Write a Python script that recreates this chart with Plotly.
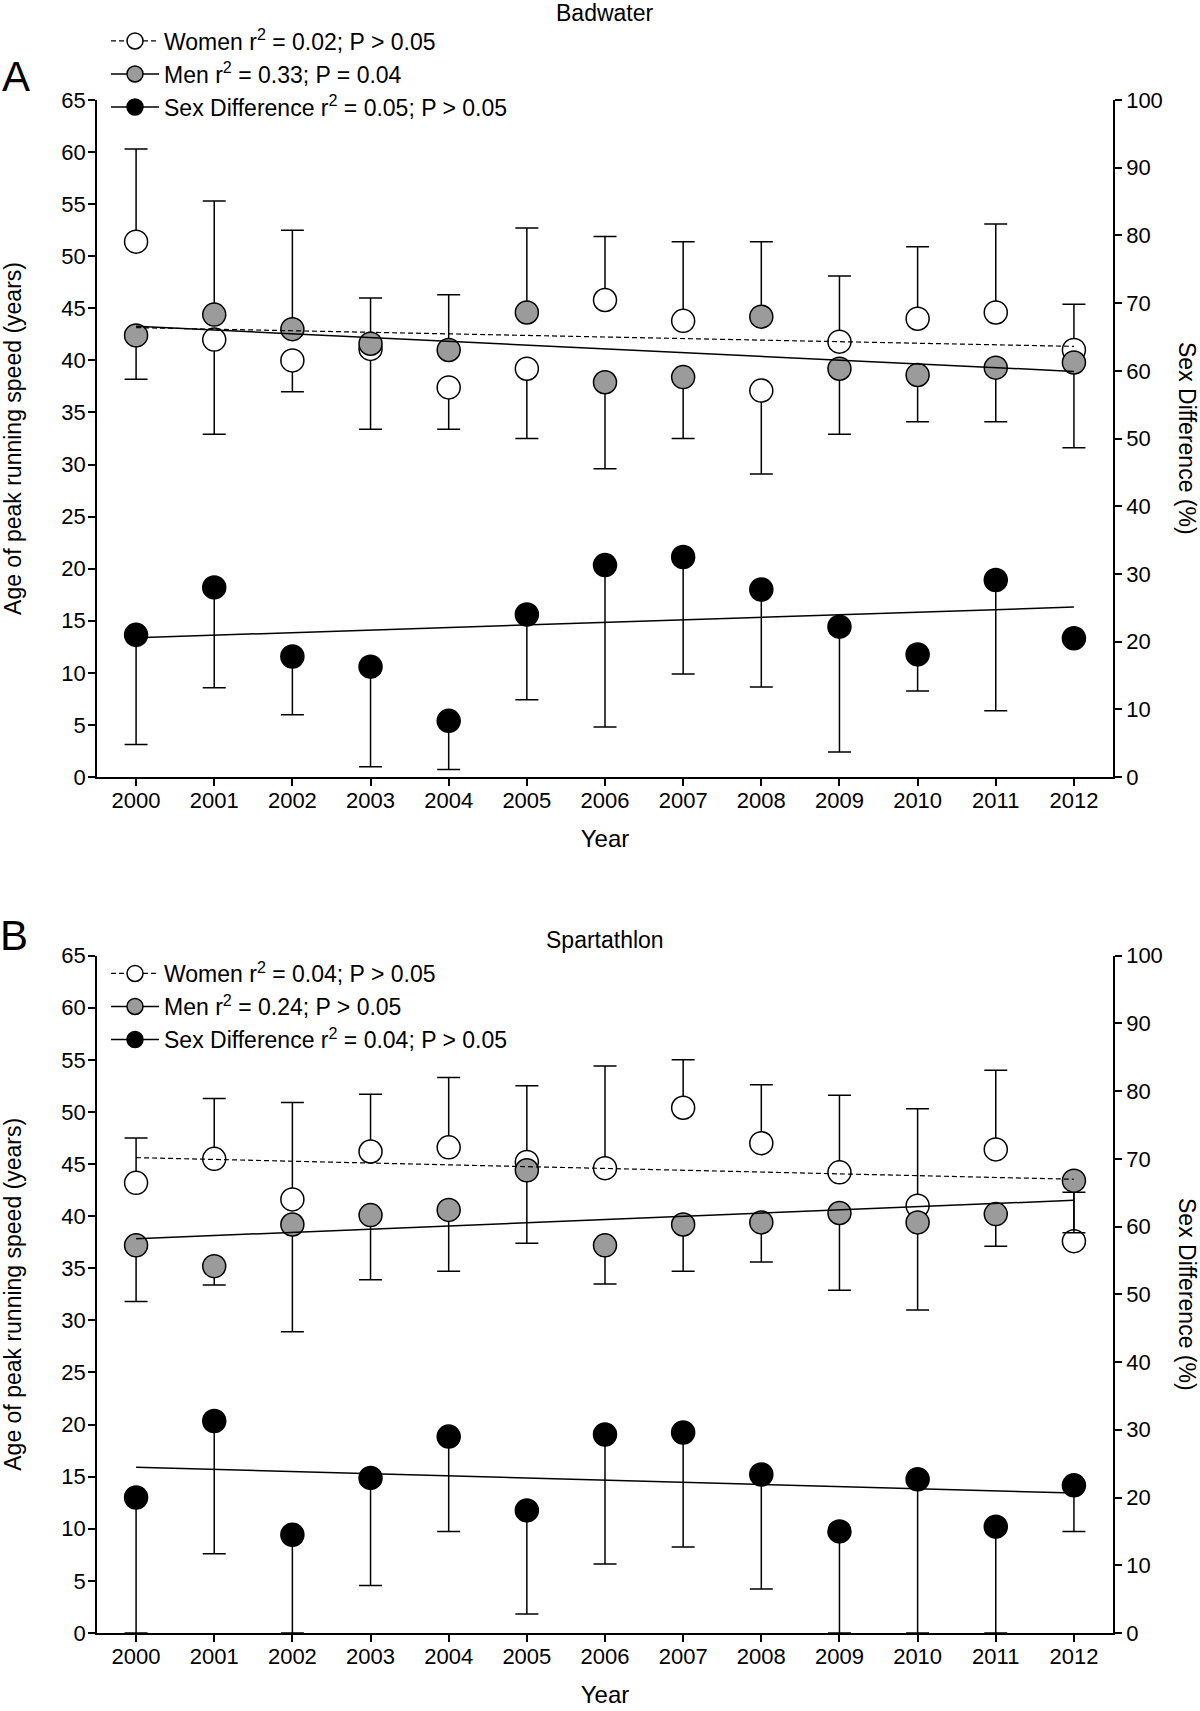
import numpy as np
import plotly.graph_objects as go

years = list(range(2000, 2013))

# ---------------- Panel A : Badwater ----------------
bw_women = [51.4, 42.0, 40.0, 41.1, 37.4, 39.2, 45.8, 43.8, 37.1, 41.8, 44.0, 44.6, 41.0]
bw_women_err_up = [8.9, 0, 0, 0, 0, 0, 6.1, 7.6, 0, 6.3, 6.9, 8.5, 4.4]
bw_women_err_down = [0, 9.1, 3.0, 7.7, 4.0, 6.7, 0, 0, 8.0, 0, 0, 0, 0]
bw_men = [42.4, 44.4, 43.0, 41.6, 41.0, 44.6, 37.9, 38.4, 44.2, 39.2, 38.6, 39.3, 39.8]
bw_men_err_up = [0, 10.9, 9.5, 4.4, 5.3, 8.1, 0, 0, 7.2, 0, 0, 0, 0]
bw_men_err_down = [4.2, 0, 0, 0, 0, 0, 8.3, 5.9, 0, 6.3, 4.5, 5.2, 8.2]
bw_diff = [21.0, 28.0, 17.8, 16.3, 8.3, 24.0, 31.3, 32.5, 27.7, 22.2, 18.1, 29.1, 20.5]
bw_diff_err_down = [16.2, 14.8, 8.6, 14.8, 7.2, 12.6, 23.9, 17.3, 14.4, 18.5, 5.4, 19.3, 0]

# ---------------- Panel B : Spartathlon ----------------
sp_women = [43.2, 45.5, 41.6, 46.2, 46.6, 45.2, 44.6, 50.4, 47.0, 44.2, 41.0, 46.4, 37.6]
sp_women_err_up = [4.3, 5.8, 9.3, 5.5, 6.7, 7.3, 9.8, 4.6, 5.6, 7.4, 9.3, 7.6, 4.7]
sp_women_err_down = [0] * 13
sp_men = [37.2, 35.2, 39.2, 40.1, 40.6, 44.4, 37.2, 39.2, 39.4, 40.3, 39.4, 40.2, 43.4]
sp_men_err_up = [0] * 13
sp_men_err_down = [5.4, 1.8, 10.3, 6.2, 5.9, 7.0, 3.7, 4.5, 3.8, 7.4, 8.4, 3.1, 5.0]
sp_diff = [20.0, 31.3, 14.5, 22.9, 29.0, 18.1, 29.3, 29.6, 23.4, 15.0, 22.7, 15.7, 21.8]
sp_diff_err_down = [20.0, 19.6, 14.5, 15.9, 14.0, 15.3, 19.1, 16.9, 16.9, 15.0, 22.7, 15.7, 6.8]

legend_a = ["Women r<sup>2</sup> = 0.02; P &gt; 0.05",
            "Men r<sup>2</sup> = 0.33; P = 0.04",
            "Sex Difference r<sup>2</sup> = 0.05; P &gt; 0.05"]
legend_b = ["Women r<sup>2</sup> = 0.04; P &gt; 0.05",
            "Men r<sup>2</sup> = 0.24; P &gt; 0.05",
            "Sex Difference r<sup>2</sup> = 0.04; P &gt; 0.05"]

FONT = "Liberation Sans, Arial, Helvetica, sans-serif"
W, H = 1200, 1711
GREY = "#9b9b9b"
MS = 23


def px(x):
    return x / W


def py(y):
    return 1 - y / H


def trend(vals):
    k, b = np.polyfit(years, vals, 1)
    xs = [years[0], years[-1]]
    return xs, [k * x + b for x in xs]


fig = go.Figure()


def add_panel(xa, yl, yr, legend, women, wu, wd, men, mu, md, diff, dd, labels):
    common_err = dict(type="data", symmetric=False, color="black", thickness=1.5, width=11.5)
    fig.add_trace(go.Scatter(
        x=years, y=women, mode="markers", xaxis=xa, yaxis=yl, showlegend=False,
        marker=dict(size=MS, color="white", line=dict(color="black", width=1.5)),
        error_y=dict(array=wu, arrayminus=wd, **common_err)))
    fig.add_trace(go.Scatter(
        x=years, y=men, mode="markers", xaxis=xa, yaxis=yl, showlegend=False,
        marker=dict(size=MS, color=GREY, line=dict(color="black", width=1.5)),
        error_y=dict(array=mu, arrayminus=md, **common_err)))
    fig.add_trace(go.Scatter(
        x=years, y=diff, mode="markers", xaxis=xa, yaxis=yr, showlegend=False,
        marker=dict(size=MS, color="black", line=dict(color="black", width=1.5)),
        error_y=dict(array=[0] * len(diff), arrayminus=dd, **common_err)))
    tx, ty = trend(women)
    fig.add_trace(go.Scatter(x=tx, y=ty, mode="lines", xaxis=xa, yaxis=yl, showlegend=False,
                             line=dict(color="black", width=1.2, dash="5px,3px")))
    tx, ty = trend(men)
    fig.add_trace(go.Scatter(x=tx, y=ty, mode="lines", xaxis=xa, yaxis=yl, showlegend=False,
                             line=dict(color="black", width=1.5)))
    tx, ty = trend(diff)
    fig.add_trace(go.Scatter(x=tx, y=ty, mode="lines", xaxis=xa, yaxis=yr, showlegend=False,
                             line=dict(color="black", width=1.5)))
    # legend entries
    styles = [("white", "5px,3px", 1.2), (GREY, "solid", 1.5), ("black", "solid", 1.5)]
    for i, (lab, (c, d, lw)) in enumerate(zip(labels, styles)):
        fig.add_trace(go.Scatter(
            x=[None], y=[None], mode="lines+markers", name=lab, legend=legend,
            legendgroup=f"{legend}{i}", xaxis=xa, yaxis=yl,
            marker=dict(size=MS, color=c, line=dict(color="black", width=1.5)),
            line=dict(color="black", width=lw, dash=d)))


add_panel("x", "y", "y2", "legend", bw_women, bw_women_err_up, bw_women_err_down,
          bw_men, bw_men_err_up, bw_men_err_down, bw_diff, bw_diff_err_down, legend_a)
add_panel("x2", "y3", "y4", "legend2", sp_women, sp_women_err_up, sp_women_err_down,
          sp_men, sp_men_err_up, sp_men_err_down, sp_diff, sp_diff_err_down, legend_b)

xdom = [px(97), px(1113)]
doma = [py(777), py(100)]
domb = [py(1633), py(955.6)]

axis_common = dict(showline=True, linecolor="black", linewidth=1.5, ticks="outside",
                   ticklen=7, tickwidth=1.5, tickcolor="black", showgrid=False,
                   zeroline=False, tickfont=dict(size=22, color="black", family=FONT))
xcommon = dict(axis_common, range=[1999.5, 2012.5], tickmode="array", tickvals=years,
               ticklabelstandoff=-4,
               title=dict(text="Year", font=dict(size=24, color="black"), standoff=18))
ylcommon = dict(axis_common, range=[0, 65], tickmode="linear", tick0=0, dtick=5,
                ticklabelstandoff=-2,
                title=dict(text="Age of peak running speed (years)",
                           font=dict(size=23, color="black"), standoff=43))
yrcommon = dict(axis_common, range=[0, 100], tickmode="linear", tick0=0, dtick=10,
                side="right")

legend_common = dict(xanchor="left", yanchor="top", bgcolor="rgba(0,0,0,0)",
                     font=dict(size=23), tracegroupgap=0.1, itemwidth=48)

fig.update_layout(
    width=W, height=H, margin=dict(l=0, r=0, t=0, b=0, autoexpand=False),
    paper_bgcolor="white", plot_bgcolor="white",
    font=dict(family=FONT, color="black", size=22),
    xaxis=dict(xcommon, domain=xdom, anchor="y"),
    yaxis=dict(ylcommon, domain=doma, anchor="x"),
    yaxis2=dict(yrcommon, overlaying="y", anchor="x"),
    xaxis2=dict(xcommon, domain=xdom, anchor="y3"),
    yaxis3=dict(ylcommon, domain=domb, anchor="x2"),
    yaxis4=dict(yrcommon, overlaying="y3", anchor="x2"),
    legend=dict(legend_common, x=px(106), y=py(19.5)),
    legend2=dict(legend_common, x=px(106), y=py(952)),
    showlegend=True,
)

annos = [
    dict(text="Badwater", x=px(605), y=py(13), font=dict(size=23)),
    dict(text="Spartathlon", x=px(605), y=py(940), font=dict(size=23)),
    dict(text="A", x=px(16), y=py(76), font=dict(size=42)),
    dict(text="B", x=px(14), y=py(935), font=dict(size=42)),
    dict(text="Sex Difference (%)", x=px(1187), y=py(438), textangle=90, font=dict(size=23)),
    dict(text="Sex Difference (%)", x=px(1187), y=py(1294), textangle=90, font=dict(size=23)),
]
for a in annos:
    fig.add_annotation(xref="paper", yref="paper", showarrow=False,
                       xanchor="center", yanchor="middle", **a)

fig.write_html("out.html",
               config={"displayModeBar": False},
               post_script="document.body.style.margin='0px';document.body.style.overflow='hidden';")
